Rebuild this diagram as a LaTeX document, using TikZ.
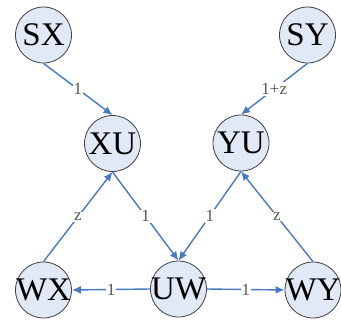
\documentclass[tikz,border=0pt]{standalone}
\usepackage{fontspec}
\setmainfont{Liberation Serif}
\usetikzlibrary{arrows.meta}
\definecolor{nodefill}{RGB}{226,233,246}
\definecolor{edgeblue}{RGB}{72,122,192}
\definecolor{labgray}{RGB}{85,85,85}
\tikzset{
  vert/.style={circle,draw=black!75,line width=0.8pt,fill=nodefill,minimum size=56pt,inner sep=0pt,font=\fontsize{33}{33}\selectfont},
  conn/.style={draw=edgeblue,line width=1.4pt,-{Latex[length=9pt,width=8pt]}},
  lab/.style={fill=white,inner sep=1pt,text=labgray,font=\fontsize{17}{17}\selectfont}
}
\newcommand{\vtxt}[1]{\makebox[0pt]{#1}}
\begin{document}
\begin{tikzpicture}[x=1pt,y=-1pt]
\useasboundingbox (0,0) rectangle (341,325);
\node[vert] (SX) at (43.5,35) {\vtxt{SX}};
\node[vert] (SY) at (307.5,35) {\vtxt{SY}};
\node[vert] (XU) at (112.5,143.5) {\vtxt{XU}};
\node[vert] (YU) at (241,143) {\vtxt{YU}};
\node[vert] (WX) at (43.5,290) {\vtxt{WX}};
\node[vert] (UW) at (178.5,289) {\vtxt{UW}};
\node[vert] (WY) at (313,290) {\vtxt{WY}};
\draw[conn] (SX.south) -- node[lab] {1} (XU.north);
\draw[conn] (SY.south) -- node[lab] {1+z} (YU.north);
\draw[conn] (WX.north) -- node[lab] {z} (XU.south);
\draw[conn] (XU.south) -- node[lab] {1} (UW.north);
\draw[conn] (YU.south) -- node[lab] {1} (UW.north);
\draw[conn] (WY.north) -- node[lab] {z} (YU.south);
\draw[conn] (UW.west) -- node[lab] {1} (WX.east);
\draw[conn] (UW.east) -- node[lab] {1} (WY.west);
\end{tikzpicture}
\end{document}
